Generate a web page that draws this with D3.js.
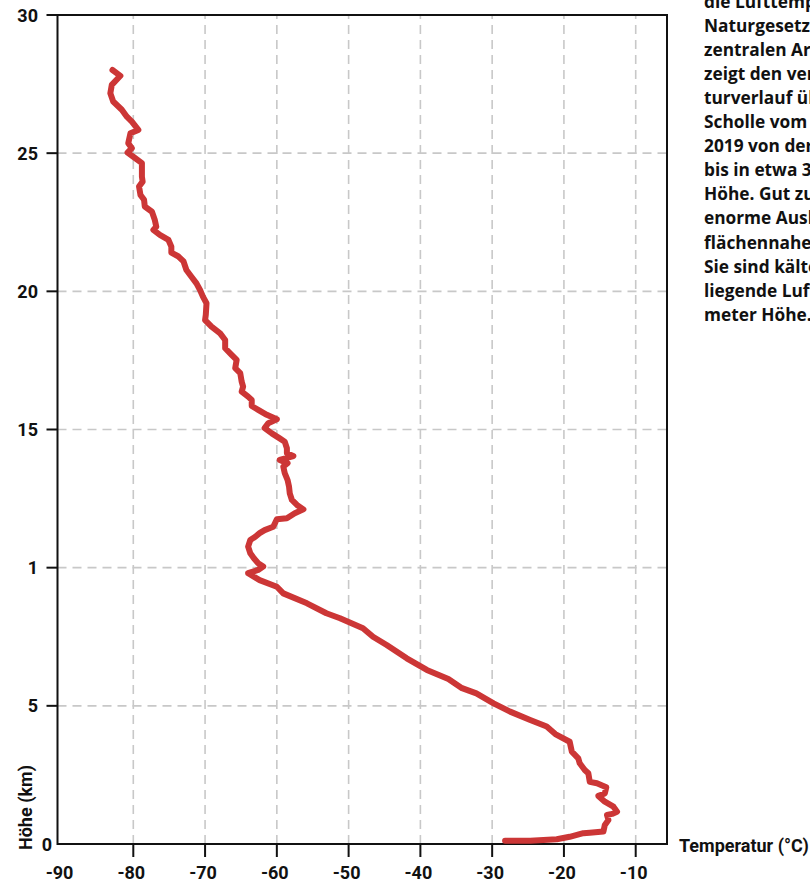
<!DOCTYPE html>
<html>
<head>
<meta charset="utf-8">
<script src="https://cdn.jsdelivr.net/npm/d3@7"></script>
<style>
  html, body { margin: 0; padding: 0; background: #fff; overflow: hidden; }
  svg { display: block; }
  text { font-family: Roboto, "Noto Sans", sans-serif; font-weight: 700; fill: #111; }
  text.side { font-family: "Open Sans", sans-serif; font-weight: 700; }
</style>
</head>
<body>
<svg id="chart" width="810" height="884"></svg>
<script>
// ---- data ----
const temperature = [
  -82.9, -81.8, -83.0, -83.2, -82.8, -81.6, -80.9, -80.2, -79.3, -80.4,
  -80.7, -80.2, -80.8, -80.0, -78.8, -78.8, -78.7, -79.2, -79.0, -78.5,
  -78.4, -77.4, -77.0, -76.8, -77.2, -76.3, -75.1, -74.7, -74.7, -73.7,
  -73.0, -72.6, -71.9, -71.2, -70.7, -70.3, -69.8, -69.9, -70.0, -69.1,
  -67.9, -67.2, -67.2, -66.3, -65.6, -65.8, -65.1, -64.9, -64.7, -64.9,
  -64.0, -63.5, -63.5, -62.6, -61.4, -60.0, -61.2, -61.7, -60.7, -59.6,
  -58.9, -58.6, -58.6, -57.7, -59.6, -58.5, -59.1, -58.9, -58.5, -58.3,
  -58.2, -57.9, -57.2, -56.3, -57.5, -58.6, -60.0, -60.5, -61.7, -62.4,
  -63.0, -63.7, -64.0, -63.7, -63.2, -62.6, -61.9, -62.6, -64.0, -62.4,
  -60.0, -59.1, -55.8, -53.1, -51.2, -48.0, -46.6, -44.7, -41.9, -39.1,
  -36.1, -34.2, -32.2, -29.8, -27.5, -24.7, -22.4, -21.2, -19.2, -18.9,
  -18.0, -17.8, -17.1, -16.6, -16.4, -15.4, -14.1, -14.3, -15.2, -14.3,
  -13.1, -12.6, -13.3, -14.0, -13.8, -14.3, -14.5, -16.4, -17.3, -19.2,
  -21.0, -24.7, -28.2
];
const height = [
  28.01, 27.80, 27.47, 27.17, 26.87, 26.57, 26.32, 26.14, 25.84, 25.72,
  25.36, 25.18, 25.02, 24.87, 24.64, 24.15, 23.97, 23.79, 23.49, 23.31,
  23.07, 22.88, 22.58, 22.34, 22.22, 22.04, 21.86, 21.62, 21.40, 21.26,
  21.08, 20.77, 20.53, 20.29, 20.05, 19.81, 19.57, 19.15, 18.96, 18.72,
  18.48, 18.24, 17.94, 17.70, 17.52, 17.22, 17.04, 16.73, 16.55, 16.37,
  16.19, 16.07, 15.85, 15.71, 15.53, 15.37, 15.23, 15.05, 14.86, 14.68,
  14.56, 14.32, 14.14, 14.04, 13.90, 13.78, 13.66, 13.42, 13.17, 12.93,
  12.69, 12.45, 12.27, 12.11, 11.97, 11.79, 11.75, 11.48, 11.36, 11.25,
  11.12, 11.00, 10.76, 10.52, 10.34, 10.16, 10.04, 9.92, 9.80, 9.55,
  9.31, 9.07, 8.71, 8.35, 8.17, 7.81, 7.50, 7.20, 6.72, 6.30,
  5.97, 5.64, 5.45, 5.09, 4.79, 4.49, 4.25, 3.98, 3.70, 3.34,
  3.10, 2.92, 2.68, 2.56, 2.25, 2.20, 2.05, 1.83, 1.74, 1.53,
  1.35, 1.17, 1.09, 1.05, 0.87, 0.69, 0.45, 0.41, 0.39, 0.26,
  0.17, 0.12, 0.12
];
const xTicks = [-90, -80, -70, -60, -50, -40, -30, -20, -10];
const yTicks = [0, 5, 10, 15, 20, 25, 30];
const yTickLabels = ["0", "5", "1", "15", "20", "25", "30"];
const xTitle = "Temperatur (°C)";
const yTitle = "Höhe (km)";
const sideText = [
  "die Lufttemperatur mit der Höhe ab – ein",
  "Naturgesetz. Über dem",
  "zentralen Arktischen Ozean",
  "zeigt den vertikalen Tempera-",
  "turverlauf über der MOSAiC-",
  "Scholle vom 10. Dezember",
  "2019 von der Oberfläche",
  "bis in etwa 30 Kilometer",
  "Höhe. Gut zu sehen ist die",
  "enorme Auskühlung der ober-",
  "flächennahen Luftschichten.",
  "Sie sind kälter als die darüber-",
  "liegende Luft in einem Kilo-",
  "meter Höhe."
];

// ---- layout ----
const svg = d3.select("#chart");
const frame = { left: 57.5, right: 667, top: 15, bottom: 844 };
const x = d3.scaleLinear().domain([-80, -10]).range([133.3, 635.7]);
const y = d3.scaleLinear().domain([0, 30]).range([844, 15]);

// grid
const grid = svg.append("g").attr("stroke", "#c8c8c8").attr("stroke-width", 1.6)
  .attr("stroke-dasharray", "9,6");
grid.selectAll("line.v").data(xTicks.filter(d => d > -90)).join("line")
  .attr("x1", d => x(d)).attr("x2", d => x(d))
  .attr("y1", frame.bottom).attr("y2", frame.top);
grid.selectAll("line.h").data(yTicks.filter(d => d > 0 && d < 30)).join("line")
  .attr("y1", d => y(d)).attr("y2", d => y(d))
  .attr("x1", frame.left).attr("x2", frame.right);

// frame
svg.append("rect")
  .attr("x", frame.left).attr("y", frame.top)
  .attr("width", frame.right - frame.left).attr("height", frame.bottom - frame.top)
  .attr("fill", "none").attr("stroke", "#111").attr("stroke-width", 2);

// x axis ticks
const xAxis = svg.append("g");
xAxis.selectAll("line").data(xTicks.filter(d => d > -90)).join("line")
  .attr("x1", d => x(d)).attr("x2", d => x(d))
  .attr("y1", frame.bottom).attr("y2", frame.bottom + 13)
  .attr("stroke", "#111").attr("stroke-width", 2);
xAxis.selectAll("text").data(xTicks).join("text")
  .attr("x", d => x(d) - 2).attr("y", 879)
  .attr("text-anchor", "middle").attr("font-size", 18)
  .text(d => d);

// y axis ticks
const yAxis = svg.append("g");
yAxis.selectAll("line").data(yTicks.filter(d => d > 0)).join("line")
  .attr("x1", frame.left - 11).attr("x2", frame.left)
  .attr("y1", d => y(d)).attr("y2", d => y(d))
  .attr("stroke", "#111").attr("stroke-width", 2);
yAxis.selectAll("text").data(yTicks).join("text")
  .attr("x", d => d === 0 ? 52 : 38)
  .attr("y", d => y(d) + 6.5)
  .attr("text-anchor", "end").attr("font-size", 18)
  .text((d, i) => yTickLabels[i]);

// titles
svg.append("text").attr("x", 679).attr("y", 852).attr("font-size", 18).text(xTitle);
svg.append("text")
  .attr("transform", "translate(32,850) rotate(-90)")
  .attr("font-size", 18).text(yTitle);

// side text
svg.append("g").selectAll("text").data(sideText).join("text")
  .attr("class", "side")
  .attr("x", 704).attr("y", (d, i) => 7.5 + i * 24.1)
  .attr("font-size", 17.3).text(d => d);

// curve
const pts = temperature.map((t, i) => [t, height[i]]);
svg.append("path")
  .datum(pts)
  .attr("fill", "none").attr("stroke", "#cc3636").attr("stroke-width", 6)
  .attr("stroke-linejoin", "round").attr("stroke-linecap", "round")
  .attr("d", d3.line().x(d => x(d[0])).y(d => y(d[1])));
</script>
</body>
</html>
